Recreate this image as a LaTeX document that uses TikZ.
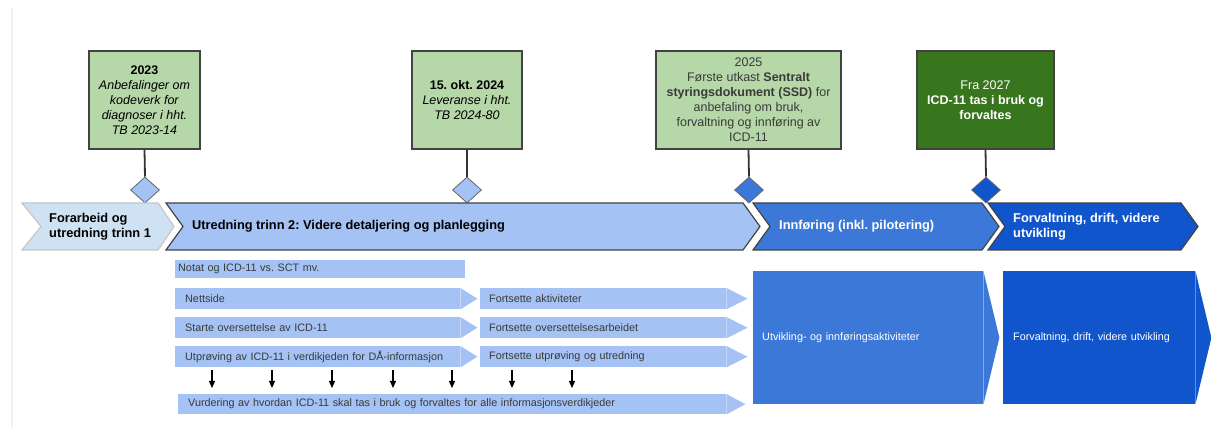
\documentclass[tikz,border=0pt]{standalone}
\usepackage{fontspec}
\setmainfont{Liberation Sans}
\usetikzlibrary{shapes.geometric,arrows.meta}
\definecolor{msgreen}{HTML}{B6D7A8}
\definecolor{msdark}{HTML}{38761D}
\definecolor{edgegray}{HTML}{434343}
\definecolor{paleblue}{HTML}{CFE2F3}
\definecolor{rowblue}{HTML}{A4C2F4}
\definecolor{phaseblue}{HTML}{3C78D8}
\definecolor{deepblue}{HTML}{1155CC}
\definecolor{rowtext}{HTML}{3A3A3A}
\newcommand{\boxfont}{\fontsize{12.5}{15}\selectfont}
\newcommand{\phasefont}{\fontsize{12.8}{15}\selectfont\bfseries}
\newcommand{\rowfont}{\fontsize{10.8}{13}\selectfont}
\frenchspacing
\tikzset{
  milestone/.style={draw=edgegray, line width=1.5pt, fill=msgreen, minimum height=98,
    inner sep=0pt, align=center, font=\boxfont},
  msdiamond/.style={diamond, draw=black!60, line width=0.8pt, minimum width=29, minimum height=26,
    inner sep=0pt},
  stem/.style={draw=black!80, line width=1.8pt},
  chev/.style={draw=edgegray, line width=1.2pt, line join=miter},
  phasetext/.style={anchor=west, align=left, font=\phasefont, inner sep=0pt},
  rowbox/.style={fill=rowblue, anchor=north west, inner ysep=0pt, minimum height=21,
    align=left, font=\rowfont, text=rowtext},
  bigbox/.style={anchor=north west, inner ysep=0pt, minimum height=133, align=left,
    font=\rowfont, text=white},
  dnarrow/.style={-{Triangle[length=7pt,width=6pt]}, line width=1.1pt, black}
}

\begin{document}
\begin{tikzpicture}[x=1pt,y=-1pt]
    \useasboundingbox (0,0) rectangle (1211,427);
    \draw[gray!12, line width=1.5pt] (12,8) -- (12,427);

    % Milestones
    \node[milestone, minimum width=111] (b1) at (144.5,100)
        {\textbf{2023}\\ \textit{Anbefalinger om}\\ \textit{kodeverk for}\\
         \textit{diagnoser i hht.}\\ \textit{TB 2023-14}};
    \node[milestone, minimum width=110] (b2) at (467,100)
        {\textbf{15. okt. 2024}\\ \textit{Leveranse i hht.}\\ \textit{TB 2024-80}};
    \node[milestone, minimum width=185, text=rowtext] (b3) at (748.5,100)
        {2025\\ Første utkast \textbf{Sentralt}\\ \textbf{styringsdokument (SSD)} for\\
         anbefaling om bruk,\\ forvaltning og innføring av\\ ICD-11};
    \node[milestone, minimum width=137, fill=msdark, text=white] (b4) at (985.5,100)
        {Fra 2027\\ \textbf{ICD-11 tas i bruk og}\\ \textbf{forvaltes}};

    \node[msdiamond, fill=rowblue] (d1) at (145,190) {};
    \node[msdiamond, fill=rowblue] (d2) at (467,190) {};
    \node[msdiamond, fill=phaseblue] (d3) at (749,190) {};
    \node[msdiamond, fill=deepblue] (d4) at (986,190) {};
    \foreach \i in {1,...,4}
        \draw[stem] (b\i.south) -- (d\i.north);

    % Phases
    \draw[chev, draw=gray!45, fill=paleblue] (22,203) -- (158,203) -- (174,226.5) -- (158,250)
        -- (22,250) -- (41,226.5) -- cycle;
    \draw[chev, fill=rowblue] (166,203) -- (743,203) -- (760,226.5) -- (743,250)
        -- (166,250) -- (183,226.5) -- cycle;
    \draw[chev, fill=phaseblue] (753,203) -- (982,203) -- (999,226.5) -- (982,250)
        -- (753,250) -- (770,226.5) -- cycle;
    \draw[chev, fill=deepblue] (988,203) -- (1181,203) -- (1198,226.5) -- (1181,250)
        -- (988,250) -- (1005,226.5) -- cycle;

    \node[phasetext] (t1) at (49,226.5) {Forarbeid og\\utredning trinn 1};
    \node[phasetext] (t2) at (192,226.5) {Utredning trinn 2: Videre detaljering og planlegging};
    \node[phasetext, text=white] (t3) at (779,226.5) {Innføring (inkl. pilotering)};
    \node[phasetext, text=white] (t4) at (1013,226.5) {Forvaltning, drift, videre\\utvikling};

    % Activities
    \node[rowbox, minimum height=18, inner xsep=3, text width=284] (r1) at (175,260)
        {Notat og ICD-11 vs. SCT mv.};
    \node[rowbox, inner xsep=10, text width=265] (r2) at (175,288) {Nettside};
    \node[rowbox, inner xsep=10, text width=265] (r3) at (175,317) {Starte oversettelse av ICD-11};
    \node[rowbox, inner xsep=10, text width=265] (r4) at (175,346)
        {Utprøving av ICD-11 i verdikjeden for DÅ-informasjon};
    \node[rowbox, inner xsep=9, text width=228] (c2) at (480,288) {Fortsette aktiviteter};
    \node[rowbox, inner xsep=9, text width=228] (c3) at (480,317) {Fortsette oversettelsesarbeidet};
    \node[rowbox, inner xsep=9, text width=228] (c4) at (480,346) {Fortsette utprøving og utredning};
    \node[rowbox, minimum height=20, inner xsep=10, text width=528] (r5) at (178,394)
        {Vurdering av hvordan ICD-11 skal tas i bruk og forvaltes for alle informasjonsverdikjeder};
    \node[bigbox, fill=phaseblue, inner xsep=9, text width=212] (g3) at (753,271)
        {Utvikling- og innføringsaktiviteter};
    \node[bigbox, fill=deepblue, inner xsep=10, text width=172] (g4) at (1003,271)
        {Forvaltning, drift, videre utvikling};

    \foreach \n/\c/\l in {r2/rowblue/17, r3/rowblue/17, r4/rowblue/17, c2/rowblue/21,
                          c3/rowblue/21, c4/rowblue/21, r5/rowblue/19, g3/phaseblue/16, g4/deepblue/16}
        \fill[\c] (\n.north east) -- ([xshift=\l]\n.east) -- (\n.south east) -- cycle;

    \foreach \x in {212,272,332,393,452,512,572}
        \draw[dnarrow, shorten <=3pt, shorten >=6pt] (r4.south -| \x,0) -- (r5.north -| \x,0);
\end{tikzpicture}
\end{document}
